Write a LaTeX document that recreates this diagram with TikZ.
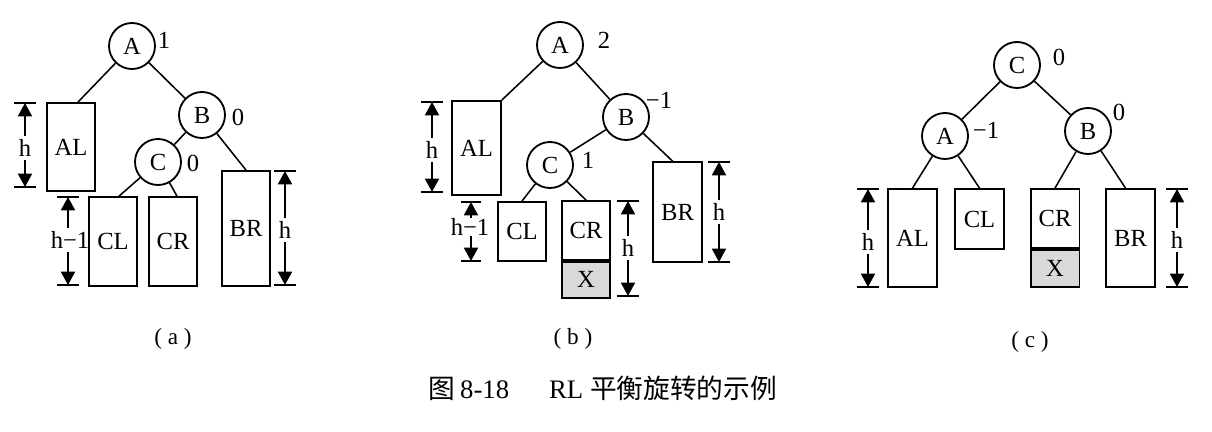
\documentclass[tikz,border=0pt]{standalone}
\usepackage{fontspec}
\setmainfont{Liberation Serif}
\newfontfamily\cjk{Noto Sans CJK SC}
\usetikzlibrary{arrows.meta,calc}

\begin{document}
\begin{tikzpicture}[x=0.025cm, y=-0.025cm,
      font=\fontsize{17.5}{20}\selectfont,
      tnode/.style={circle, draw, line width=1.3pt, minimum size=1.15cm, inner sep=0pt},
      sub/.style={draw, line width=1.3pt, minimum width=1.22cm, inner sep=0pt},
      subx/.style={sub, fill=gray!30},
      edge/.style={line width=1.1pt},
      bal/.style={inner sep=1pt},
      dimlbl/.style={inner sep=2pt},
      dimarr/.style={-{Triangle[length=9.5pt,width=10pt]}, line width=1.2pt},
      tick/.style={line width=1.2pt},
      capt/.style={font=\fontsize{16.5}{20}\selectfont},
    ]
    \useasboundingbox (0,0) rectangle (1212,432);

    % (a)
    \node[tnode] (aA) at (132,46)  {A};
    \node[tnode] (aB) at (202,115) {B};
    \node[tnode] (aC) at (158,162) {C};
    \node[bal] (aAb) at (164,40)  {1};
    \node[bal] (aBb) at (238,117) {0};
    \node[bal] (aCb) at (193,163) {0};
    \node[sub, minimum height=2.2cm]   (aAL) at (71,147)    {AL};
    \node[sub, minimum height=2.22cm]  (aCL) at (113,241.5) {CL};
    \node[sub, minimum height=2.22cm]  (aCR) at (173,241.5) {CR};
    \node[sub, minimum height=2.875cm] (aBR) at (246,228.5) {BR};

    \draw[edge] (aA) -- ($(aAL.north)+(7,0)$);
    \draw[edge] (aA) -- (aB);
    \draw[edge] (aB) -- (aC);
    \draw[edge] (aB) -- (aBR.north);
    \draw[edge] (aC) -- ($(aCL.north)+(6,0)$);
    \draw[edge] (aC) -- ($(aCR.north)+(4,0)$);

    \coordinate (aD1t) at (25,103); \coordinate (aD1b) at (25,187);
    \node[dimlbl] (aD1) at (25,148) {h};
    \draw[dimarr] (aD1) -- (aD1t); \draw[dimarr] (aD1) -- (aD1b);
    \draw[tick] ($(aD1t)+(-11,0)$) -- +(22,0);
    \draw[tick] ($(aD1b)+(-11,0)$) -- +(22,0);

    \coordinate (aD2t) at (68,197); \coordinate (aD2b) at (68,285);
    \node[dimlbl] (aD2) at (70,240) {h−1};
    \draw[dimarr] (aD2.north -| aD2t) -- (aD2t); \draw[dimarr] (aD2.south -| aD2b) -- (aD2b);
    \draw[tick] ($(aD2t)+(-11,0)$) -- +(22,0);
    \draw[tick] ($(aD2b)+(-11,0)$) -- +(22,0);

    \coordinate (aD3t) at (285,171); \coordinate (aD3b) at (285,285);
    \node[dimlbl] (aD3) at (285,230) {h};
    \draw[dimarr] (aD3) -- (aD3t); \draw[dimarr] (aD3) -- (aD3b);
    \draw[tick] ($(aD3t)+(-11,0)$) -- +(22,0);
    \draw[tick] ($(aD3b)+(-11,0)$) -- +(22,0);

    % (b)
    \node[tnode] (bA) at (560,45)  {A};
    \node[tnode] (bB) at (626,117) {B};
    \node[tnode] (bC) at (550,165) {C};
    \node[bal] (bAb) at (604,40)  {2};
    \node[bal] (bBb) at (659,100) {−1};
    \node[bal] (bCb) at (588,160) {1};
    \node[sub, minimum height=2.35cm]  (bAL) at (476.5,148) {AL};
    \node[sub, minimum height=1.475cm] (bCL) at (522,231.5) {CL};
    \node[sub, minimum height=1.475cm] (bCR) at (586,230.5) {CR};
    \node[subx, minimum height=0.9cm, anchor=north] (bX) at (bCR.south) {X};
    \node[sub, minimum height=2.5cm]   (bBR) at (677.5,212) {BR};

    \draw[edge] (bA) -- (bAL.north east);
    \draw[edge] (bA) -- (bB);
    \draw[edge] (bB) -- (bC);
    \draw[edge] (bB) -- ($(bBR.north)+(-5,0)$);
    \draw[edge] (bC) -- (bCL.north);
    \draw[edge] (bC) -- (bCR.north);

    \coordinate (bD1t) at (432,102); \coordinate (bD1b) at (432,192);
    \node[dimlbl] (bD1) at (432,150) {h};
    \draw[dimarr] (bD1) -- (bD1t); \draw[dimarr] (bD1) -- (bD1b);
    \draw[tick] ($(bD1t)+(-11,0)$) -- +(22,0);
    \draw[tick] ($(bD1b)+(-11,0)$) -- +(22,0);

    \coordinate (bD2t) at (471,202); \coordinate (bD2b) at (471,261);
    \node[dimlbl, inner sep=0pt] (bD2) at (470,227) {h−1};
    \draw[dimarr] (bD2.north -| bD2t) -- (bD2t); \draw[dimarr] (bD2.south -| bD2b) -- (bD2b);
    \draw[tick] ($(bD2t)+(-10,0)$) -- +(20,0);
    \draw[tick] ($(bD2b)+(-10,0)$) -- +(20,0);

    \coordinate (bD3t) at (628,201); \coordinate (bD3b) at (628,296);
    \node[dimlbl] (bD3) at (628,248) {h};
    \draw[dimarr] (bD3) -- (bD3t); \draw[dimarr] (bD3) -- (bD3b);
    \draw[tick] ($(bD3t)+(-11,0)$) -- +(22,0);
    \draw[tick] ($(bD3b)+(-11,0)$) -- +(22,0);

    \coordinate (bD4t) at (719,162); \coordinate (bD4b) at (719,262);
    \node[dimlbl] (bD4) at (719,212) {h};
    \draw[dimarr] (bD4) -- (bD4t); \draw[dimarr] (bD4) -- (bD4b);
    \draw[tick] ($(bD4t)+(-11,0)$) -- +(22,0);
    \draw[tick] ($(bD4b)+(-11,0)$) -- +(22,0);

    % (c)
    \node[tnode] (cC) at (1017,65)  {C};
    \node[tnode] (cA) at (945,136)  {A};
    \node[tnode] (cB) at (1088,131) {B};
    \node[bal] (cCb) at (1059,57)  {0};
    \node[bal] (cAb) at (986,130)  {−1};
    \node[bal] (cBb) at (1119,112) {0};
    \node[sub, minimum height=2.45cm]  (cAL) at (912.5,238)  {AL};
    \node[sub, minimum height=1.5cm]   (cCL) at (979.5,219)  {CL};
    \node[sub, minimum height=1.475cm] (cCR) at (1055,218.5) {CR};
    \node[subx, minimum height=0.925cm, anchor=north] (cX) at (cCR.south) {X};
    \node[sub, minimum height=2.45cm]  (cBR) at (1130.5,238) {BR};

    \draw[edge] (cC) -- (cA);
    \draw[edge] (cC) -- (cB);
    \draw[edge] (cA) -- (cAL.north);
    \draw[edge] (cA) -- (cCL.north);
    \draw[edge] (cB) -- (cCR.north);
    \draw[edge] (cB) -- ($(cBR.north)+(-5,0)$);

    \coordinate (cD1t) at (868,189); \coordinate (cD1b) at (868,287);
    \node[dimlbl] (cD1) at (868,242) {h};
    \draw[dimarr] (cD1) -- (cD1t); \draw[dimarr] (cD1) -- (cD1b);
    \draw[tick] ($(cD1t)+(-11,0)$) -- +(22,0);
    \draw[tick] ($(cD1b)+(-11,0)$) -- +(22,0);

    \coordinate (cD2t) at (1177,189); \coordinate (cD2b) at (1177,287);
    \node[dimlbl] (cD2) at (1177,240) {h};
    \draw[dimarr] (cD2) -- (cD2t); \draw[dimarr] (cD2) -- (cD2b);
    \draw[tick] ($(cD2t)+(-11,0)$) -- +(22,0);
    \draw[tick] ($(cD2b)+(-11,0)$) -- +(22,0);

    \node[capt] (capa) at (173,339)  {( a )};
    \node[capt] (capb) at (573,339)  {( b )};
    \node[capt] (capc) at (1030,342) {( c )};
    \node[font=\fontsize{19}{22}\selectfont] (title) at (603,388) {{\cjk 图}\,8-18\hspace{1.5em}RL {\cjk 平衡旋转的示例}};
  \end{tikzpicture}
\end{document}
